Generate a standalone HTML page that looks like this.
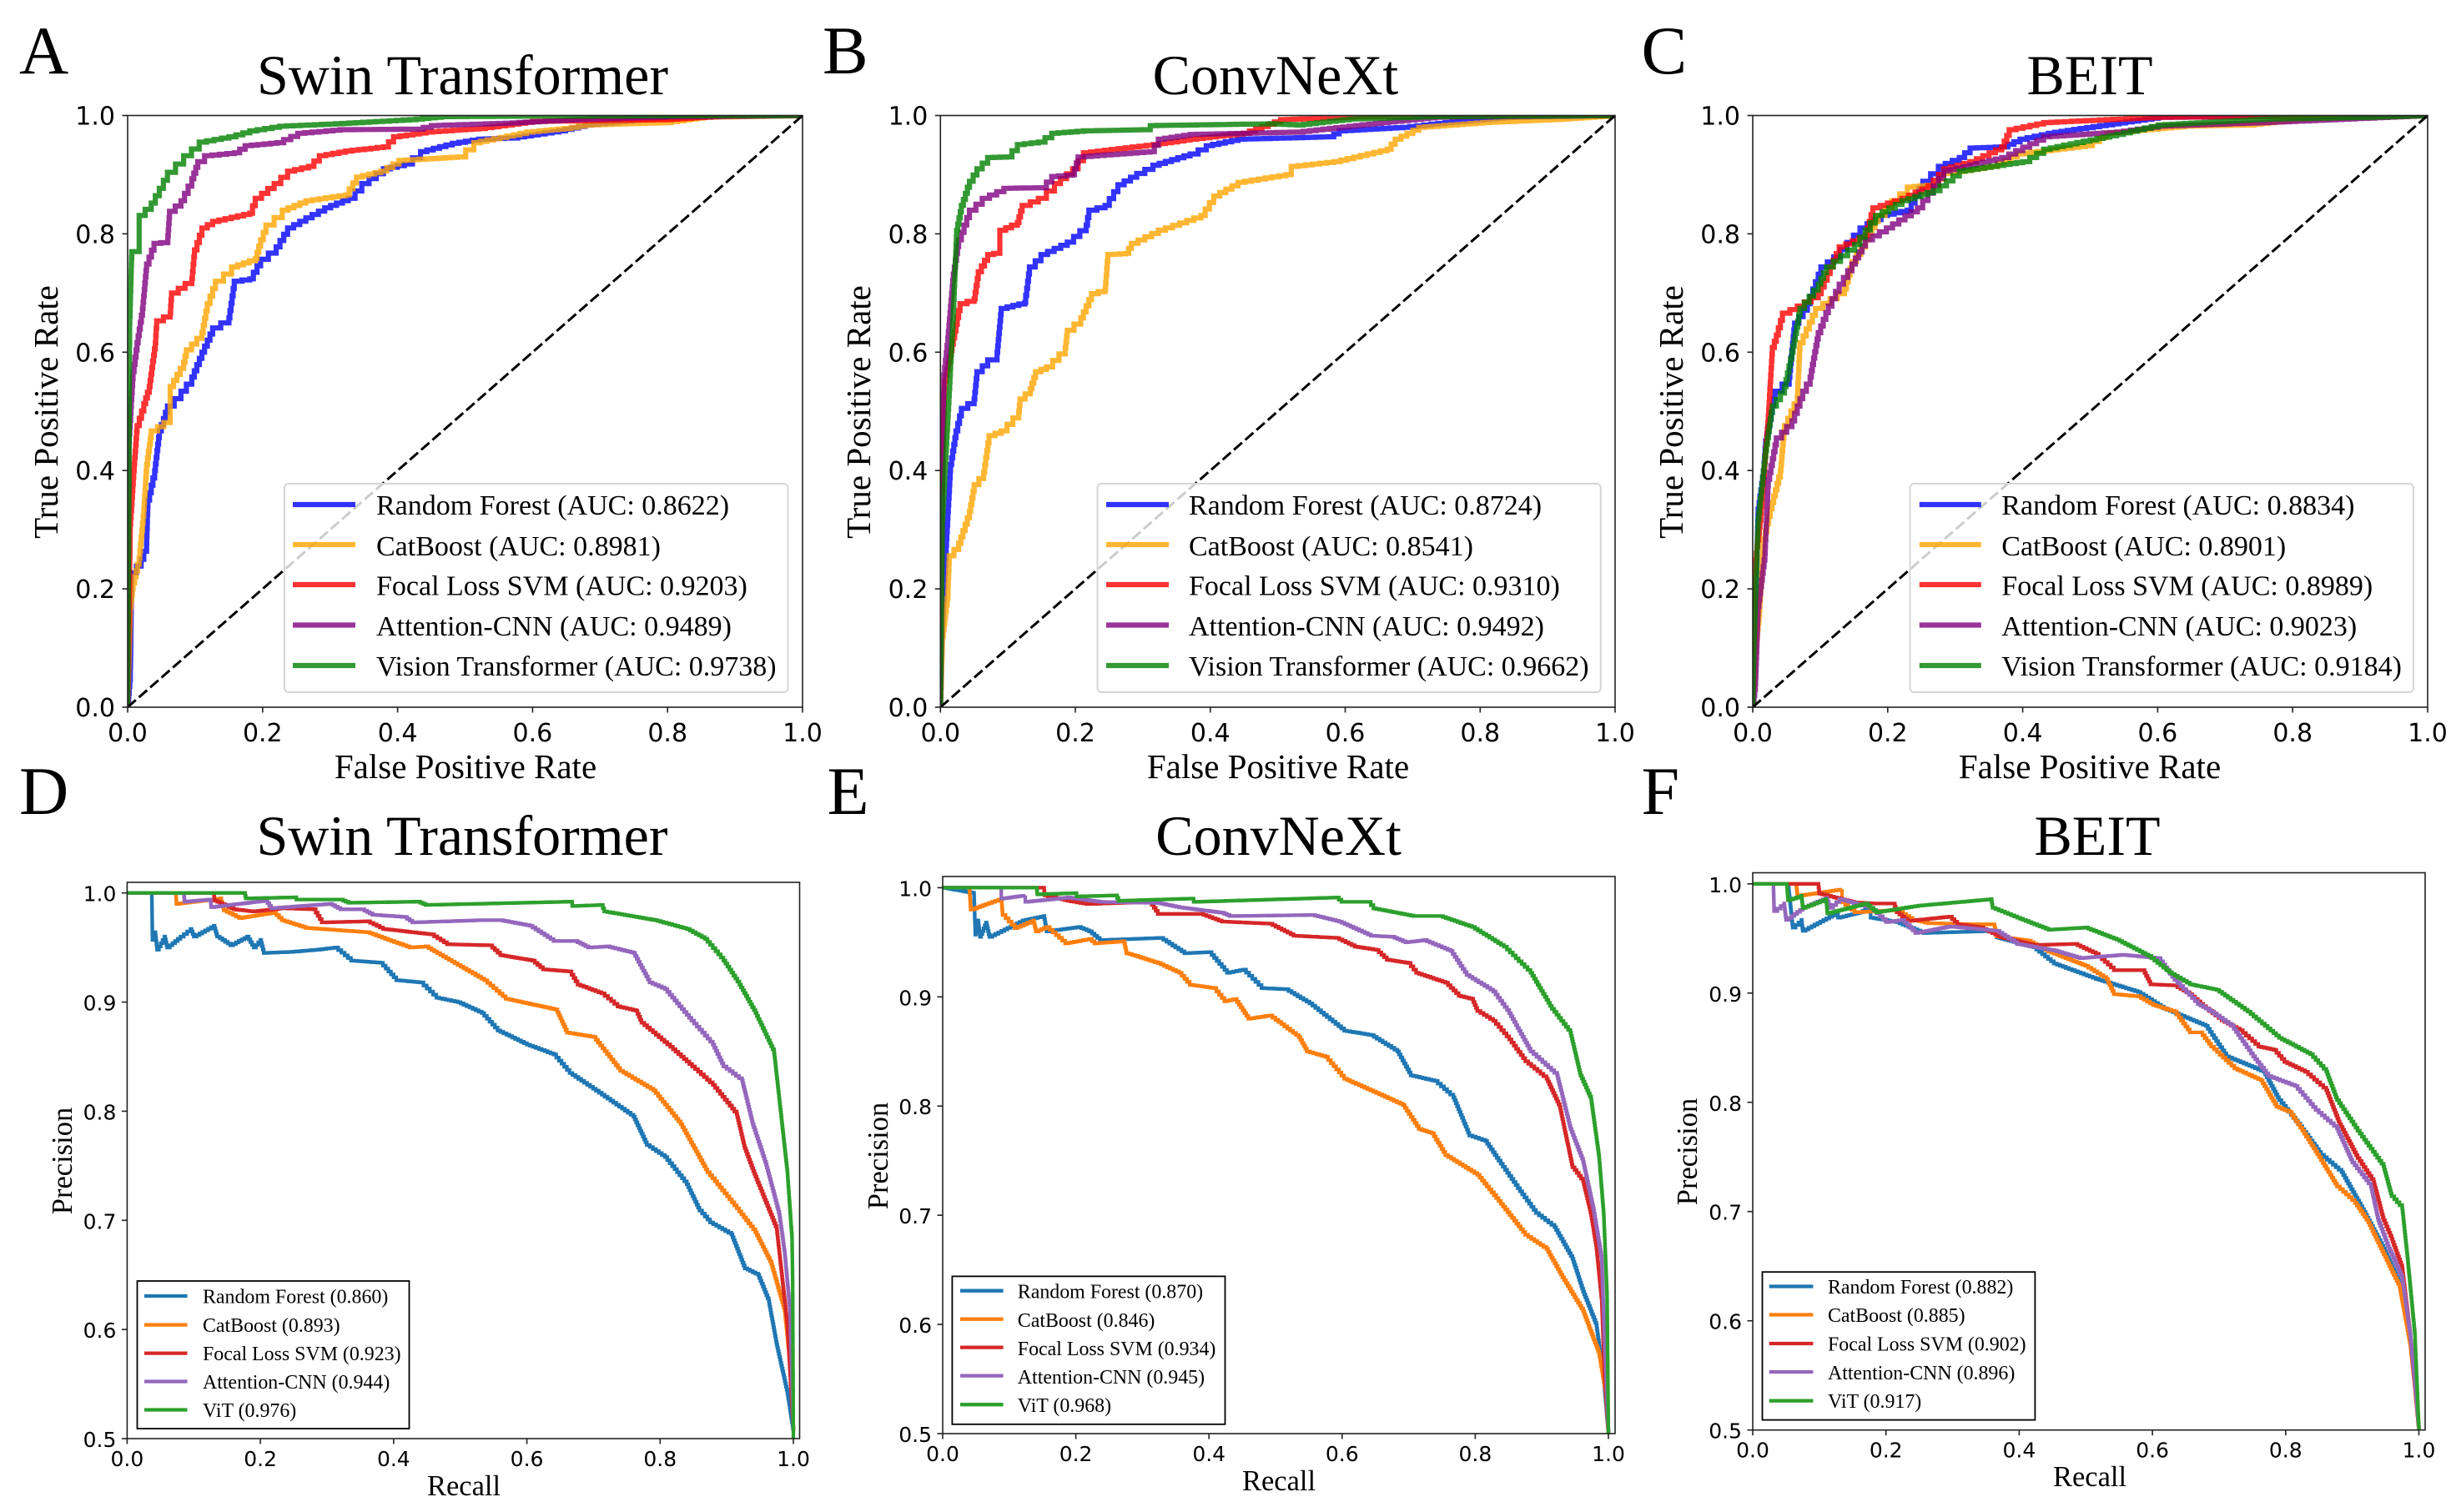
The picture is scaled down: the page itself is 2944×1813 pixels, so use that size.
<!DOCTYPE html>
<html lang="en">
<head>
<meta charset="utf-8">
<title>ROC and precision-recall curves</title>
<style>
html,body{margin:0;padding:0;background:#fff;}
svg{display:block;}
text{fill:#000;}
.serif{font-family:"Liberation Serif",serif;}
.sans{font-family:"DejaVu Sans",sans-serif;}
</style>
</head>
<body>
<svg id="chart" xmlns="http://www.w3.org/2000/svg" width="2944" height="1813" viewBox="0 0 2944 1813"></svg>
<script>
// ---------- shared categories and ticks ----------
const rocModels = ['Random Forest','CatBoost','Focal Loss SVM','Attention-CNN','Vision Transformer'];
const prModels = ['Random Forest','CatBoost','Focal Loss SVM','Attention-CNN','ViT'];
const unitTicks = [0,0.2,0.4,0.6,0.8,1];
const unitTickLabels = ['0.0','0.2','0.4','0.6','0.8','1.0'];
const prTicks = [0.5,0.6,0.7,0.8,0.9,1];
const prTickLabels = ['0.5','0.6','0.7','0.8','0.9','1.0'];

// ---------- printed legend scores ----------
const aucA = ['0.8622','0.8981','0.9203','0.9489','0.9738'];
const aucB = ['0.8724','0.8541','0.9310','0.9492','0.9662'];
const aucC = ['0.8834','0.8901','0.8989','0.9023','0.9184'];
const apD = ['0.860','0.893','0.923','0.944','0.976'];
const apE = ['0.870','0.846','0.934','0.945','0.968'];
const apF = ['0.882','0.885','0.902','0.896','0.917'];

// ---------- panel A: ROC Swin Transformer ----------
const rocA_rf = [[0,0],[.004,.058],[.006,.227],[.02,.25],[.028,.277],[.03,.35],[.04,.40],[.047,.467],[.059,.509],[.079,.534],[.095,.558],[.11,.60],[.126,.641],[.15,.658],[.158,.72],[.181,.724],[.197,.757],[.22,.778],[.237,.81],[.264,.827],[.292,.844],[.327,.86],[.347,.885],[.379,.91],[.41,.918],[.434,.939],[.481,.953],[.52,.96],[.568,.962],[.639,.974],[.678,.984],[.757,.993],[.875,.998],[1,1]];
const rocA_cat = [[0,0],[.004,.17],[.008,.21],[.017,.252],[.024,.335],[.028,.41],[.035,.467],[.063,.488],[.063,.542],[.083,.583],[.087,.604],[.11,.633],[.118,.682],[.13,.72],[.154,.744],[.189,.758],[.197,.79],[.205,.815],[.229,.84],[.264,.856],[.323,.866],[.339,.896],[.375,.906],[.402,.924],[.489,.93],[.513,.954],[.591,.972],[.647,.978],[.678,.984],[.796,.988],[.852,.997],[1,1]];
const rocA_svm = [[0,0],[.004,.31],[.009,.40],[.014,.476],[.024,.513],[.032,.542],[.041,.616],[.043,.653],[.063,.666],[.065,.70],[.095,.724],[.099,.773],[.11,.81],[.126,.821],[.181,.835],[.189,.86],[.217,.885],[.237,.906],[.268,.914],[.284,.932],[.323,.94],[.379,.947],[.394,.964],[.442,.972],[.52,.978],[.6,.99],[.796,.993],[.875,.999],[1,1]];
const rocA_cnn = [[0,0],[.002,.45],[.008,.567],[.014,.616],[.022,.674],[.028,.749],[.039,.784],[.059,.786],[.062,.838],[.079,.856],[.095,.893],[.104,.922],[.114,.932],[.158,.937],[.174,.949],[.221,.954],[.252,.97],[.315,.976],[.426,.977],[.45,.983],[.56,.987],[.678,.994],[.757,.997],[1,1]];
const rocA_vit = [[0,0],[.002,.37],[.003,.65],[.006,.77],[.017,.77],[.017,.831],[.035,.852],[.047,.877],[.059,.904],[.083,.932],[.106,.955],[.15,.964],[.181,.974],[.225,.982],[.308,.986],[.418,.993],[.465,.998],[.6,.999],[1,1]];

// ---------- panel B: ROC ConvNeXt ----------
const rocB_rf = [[0,0],[.003,.136],[.009,.285],[.015,.41],[.023,.467],[.031,.505],[.05,.521],[.054,.567],[.07,.587],[.084,.60],[.09,.674],[.125,.684],[.132,.744],[.149,.765],[.188,.786],[.216,.815],[.22,.84],[.244,.848],[.263,.883],[.291,.902],[.315,.916],[.37,.935],[.394,.949],[.441,.96],[.575,.964],[.591,.974],[.685,.98],[.748,.988],[.843,.997],[1,1]];
const rocB_cat = [[0,0],[.003,.12],[.011,.194],[.013,.256],[.027,.277],[.043,.331],[.05,.376],[.064,.397],[.072,.459],[.09,.467],[.116,.50],[.118,.521],[.133,.538],[.141,.567],[.157,.575],[.185,.608],[.188,.637],[.208,.658],[.224,.699],[.244,.706],[.248,.765],[.275,.767],[.283,.784],[.323,.806],[.386,.831],[.405,.864],[.441,.887],[.512,.90],[.52,.914],[.583,.922],[.662,.943],[.674,.96],[.709,.98],[.804,.988],[.922,.994],[1,1]];
const rocB_svm = [[0,0],[.003,.368],[.006,.55],[.019,.624],[.029,.682],[.05,.69],[.056,.736],[.07,.765],[.088,.769],[.088,.806],[.114,.819],[.121,.848],[.145,.86],[.169,.885],[.196,.91],[.212,.937],[.315,.951],[.37,.96],[.449,.97],[.504,.993],[.622,.998],[1,1]];
const rocB_cnn = [[0,0],[.003,.343],[.005,.562],[.011,.624],[.019,.732],[.027,.79],[.043,.84],[.062,.86],[.094,.877],[.149,.878],[.165,.897],[.196,.90],[.204,.93],[.311,.939],[.323,.96],[.37,.968],[.528,.972],[.654,.988],[.733,.997],[1,1]];
const rocB_vit = [[0,0],[.003,.318],[.011,.492],[.019,.666],[.024,.806],[.031,.848],[.043,.889],[.054,.91],[.07,.929],[.098,.93],[.114,.951],[.145,.955],[.165,.97],[.212,.974],[.299,.976],[.311,.983],[.488,.986],[.528,.984],[.606,.994],[.725,.998],[1,1]];

// ---------- panel C: ROC BEIT ----------
const rocC_rf = [[0,0],[.002,.08],[.008,.335],[.016,.40],[.019,.45],[.033,.534],[.054,.558],[.062,.649],[.081,.682],[.101,.744],[.12,.761],[.159,.81],[.19,.831],[.229,.84],[.252,.889],[.275,.914],[.306,.929],[.322,.945],[.369,.947],[.396,.96],[.438,.97],[.485,.978],[.601,.997],[1,1]];
const rocC_cat = [[0,0],[.005,.11],[.01,.165],[.016,.285],[.026,.335],[.041,.40],[.047,.476],[.066,.525],[.07,.616],[.093,.674],[.136,.707],[.147,.753],[.167,.79],[.186,.831],[.206,.856],[.229,.879],[.268,.883],[.283,.902],[.353,.914],[.392,.935],[.493,.949],[.524,.97],[.64,.982],[.733,.984],[.811,.994],[1,1]];
const rocC_svm = [[0,0],[.002,.227],[.012,.327],[.023,.492],[.029,.608],[.035,.629],[.044,.666],[.066,.678],[.097,.699],[.128,.778],[.167,.798],[.178,.844],[.221,.86],[.26,.881],[.283,.91],[.322,.922],[.369,.947],[.38,.976],[.431,.988],[.524,.993],[.601,.997],[1,1]];
const rocC_cnn = [[0,0],[.004,.04],[.008,.17],[.018,.26],[.023,.385],[.035,.455],[.058,.484],[.074,.534],[.085,.558],[.097,.633],[.112,.678],[.128,.715],[.147,.749],[.167,.79],[.198,.81],[.244,.844],[.283,.906],[.369,.929],[.431,.964],[.539,.972],[.601,.982],[.756,.988],[1,1]];
const rocC_vit = [[0,0],[.002,.12],[.008,.318],[.019,.434],[.029,.509],[.047,.542],[.058,.60],[.07,.674],[.097,.715],[.109,.744],[.151,.782],[.182,.831],[.221,.856],[.268,.873],[.306,.906],[.4,.922],[.431,.943],[.539,.968],[.601,.984],[.756,.994],[.911,.997],[1,1]];

// ---------- panel D: PR Swin Transformer ----------
const prD_rf = [[0,1],[.037,1],[.038,.957],[.042,.964],[.045,.948],[.056,.96],[.06,.95],[.08,.96],[.095,.967],[.1,.96],[.13,.97],[.135,.96],[.155,.952],[.18,.96],[.19,.95],[.2,.957],[.205,.945],[.245,.946],[.285,.948],[.312,.95],[.336,.938],[.38,.936],[.404,.92],[.44,.918],[.464,.904],[.496,.90],[.532,.89],[.556,.874],[.6,.861],[.64,.852],[.664,.835],[.708,.817],[.76,.795],[.78,.769],[.807,.758],[.84,.733],[.859,.709],[.875,.698],[.907,.687],[.927,.656],[.947,.65],[.963,.626],[.975,.586],[.991,.542],[1,.507]];
const prD_cat = [[0,1],[.073,1],[.074,.99],[.14,.995],[.145,.984],[.168,.977],[.22,.982],[.232,.975],[.268,.968],[.36,.964],[.396,.956],[.424,.95],[.448,.951],[.496,.934],[.536,.92],[.568,.903],[.644,.893],[.66,.872],[.70,.868],[.74,.837],[.79,.819],[.831,.788],[.871,.744],[.915,.711],[.943,.689],[.967,.66],[.987,.617],[.998,.551],[1,.507]];
const prD_svm = [[0,1],[.13,1],[.131,.993],[.16,.985],[.188,.983],[.232,.986],[.28,.985],[.292,.973],[.36,.974],[.384,.967],[.456,.962],[.48,.953],[.544,.952],[.56,.943],[.608,.938],[.624,.93],[.664,.928],[.676,.916],[.712,.908],[.736,.896],[.764,.892],[.772,.881],[.815,.859],[.848,.841],[.879,.824],[.915,.797],[.927,.766],[.943,.74],[.959,.716],[.975,.692],[.983,.648],[.991,.604],[1,.507]];
const prD_cnn = [[0,1],[.085,1],[.086,.992],[.125,.994],[.126,.987],[.208,.993],[.216,.986],[.304,.99],[.32,.985],[.352,.985],[.368,.98],[.416,.978],[.428,.973],[.528,.975],[.56,.975],[.604,.97],[.64,.956],[.672,.956],[.692,.95],[.72,.951],[.76,.945],[.784,.918],[.807,.912],[.847,.883],[.879,.861],[.895,.841],[.923,.828],[.939,.788],[.959,.751],[.979,.705],[.987,.67],[.995,.617],[1,.507]];
const prD_vit = [[0,1],[.176,1],[.178,.995],[.252,.996],[.254,.994],[.32,.994],[.332,.991],[.436,.992],[.448,.989],[.664,.992],[.668,.988],[.712,.989],[.716,.983],[.792,.975],[.84,.967],[.867,.958],[.895,.938],[.919,.916],[.943,.89],[.971,.854],[.983,.788],[.991,.744],[.998,.683],[.999,.639],[1,.5]];

// ---------- panel E: PR ConvNeXt ----------
const prE_rf = [[0,1],[.047,.995],[.049,.957],[.053,.97],[.056,.955],[.065,.968],[.07,.955],[.12,.97],[.152,.974],[.156,.96],[.204,.964],[.22,.96],[.236,.952],[.327,.954],[.363,.94],[.4,.941],[.427,.922],[.451,.925],[.479,.908],[.515,.907],[.551,.894],[.603,.869],[.643,.865],[.683,.85],[.703,.828],[.739,.823],[.767,.808],[.791,.773],[.815,.768],[.835,.75],[.867,.722],[.891,.702],[.919,.689],[.946,.66],[.962,.63],[.982,.599],[.993,.55],[1,.5]];
const prE_cat = [[0,1],[.04,1],[.042,.98],[.088,.99],[.09,.975],[.108,.963],[.136,.97],[.14,.96],[.156,.964],[.184,.949],[.22,.953],[.228,.949],[.272,.951],[.276,.94],[.323,.931],[.355,.922],[.371,.911],[.407,.908],[.423,.896],[.439,.898],[.459,.88],[.491,.883],[.535,.863],[.547,.85],[.575,.845],[.603,.825],[.651,.812],[.691,.801],[.715,.779],[.735,.775],[.755,.755],[.803,.737],[.835,.713],[.875,.682],[.907,.669],[.931,.643],[.962,.612],[.986,.573],[.996,.537],[1,.5]];
const prE_svm = [[0,1],[.152,1],[.153,.993],[.188,.988],[.216,.985],[.311,.987],[.323,.976],[.387,.976],[.419,.969],[.491,.967],[.527,.956],[.591,.954],[.619,.946],[.651,.943],[.667,.934],[.699,.931],[.711,.922],[.755,.913],[.775,.901],[.795,.898],[.803,.887],[.827,.878],[.851,.861],[.875,.841],[.907,.825],[.927,.799],[.946,.744],[.962,.731],[.974,.70],[.982,.67],[.99,.621],[.994,.555],[1,.5]];
const prE_cnn = [[0,1],[.088,1],[.088,.99],[.124,.993],[.124,.987],[.188,.991],[.236,.987],[.323,.986],[.355,.982],[.419,.977],[.431,.974],[.555,.975],[.595,.969],[.643,.956],[.675,.955],[.695,.95],[.723,.952],[.763,.942],[.787,.92],[.827,.905],[.851,.885],[.883,.85],[.923,.828],[.943,.779],[.962,.749],[.978,.704],[.99,.66],[.994,.59],[1,.5]];
const prE_vit = [[0,1],[.141,1],[.142,.994],[.2,.995],[.201,.992],[.26,.993],[.264,.988],[.371,.99],[.377,.987],[.591,.991],[.599,.987],[.639,.987],[.647,.981],[.707,.974],[.747,.974],[.795,.964],[.843,.946],[.883,.922],[.915,.889],[.943,.867],[.958,.828],[.974,.806],[.986,.753],[.993,.70],[.998,.625],[1,.5]];

// ---------- panel F: PR BEIT ----------
const prF_rf = [[0,1],[.053,1],[.06,.96],[.073,.967],[.075,.957],[.128,.974],[.128,.969],[.161,.974],[.177,.98],[.177,.969],[.216,.965],[.256,.955],[.366,.957],[.366,.951],[.421,.942],[.452,.927],[.515,.913],[.578,.901],[.617,.886],[.68,.87],[.711,.842],[.767,.828],[.79,.802],[.822,.778],[.853,.752],[.884,.736],[.92,.697],[.947,.666],[.971,.635],[.987,.587],[.994,.543],[1,.5]];
const prF_cat = [[0,1],[.065,1],[.067,.989],[.134,.995],[.134,.983],[.153,.974],[.216,.976],[.24,.967],[.263,.964],[.326,.963],[.362,.963],[.366,.952],[.413,.948],[.444,.938],[.499,.925],[.531,.913],[.542,.899],[.578,.897],[.601,.889],[.633,.883],[.656,.864],[.672,.864],[.688,.851],[.723,.831],[.763,.82],[.786,.796],[.806,.791],[.825,.774],[.853,.747],[.877,.723],[.904,.708],[.924,.69],[.947,.661],[.971,.631],[.987,.578],[.994,.538],[1,.5]];
const prF_svm = [[0,1],[.098,1],[.1,.991],[.152,.983],[.181,.982],[.212,.982],[.216,.974],[.232,.966],[.295,.97],[.307,.963],[.342,.96],[.373,.951],[.421,.944],[.483,.945],[.515,.936],[.542,.921],[.586,.921],[.597,.908],[.633,.907],[.656,.899],[.676,.888],[.704,.875],[.731,.866],[.759,.851],[.782,.848],[.798,.837],[.829,.828],[.861,.811],[.881,.78],[.908,.749],[.932,.727],[.947,.692],[.959,.675],[.975,.648],[.987,.587],[1,.5]];
const prF_cnn = [[0,1],[.031,1],[.032,.975],[.047,.982],[.05,.967],[.075,.978],[.11,.987],[.116,.978],[.13,.986],[.177,.978],[.2,.965],[.224,.967],[.244,.955],[.295,.961],[.366,.957],[.397,.945],[.452,.939],[.491,.932],[.554,.935],[.609,.932],[.633,.912],[.668,.89],[.688,.883],[.719,.87],[.751,.842],[.774,.824],[.814,.815],[.845,.793],[.877,.776],[.9,.745],[.928,.723],[.939,.692],[.955,.666],[.975,.639],[.987,.587],[.994,.543],[1,.5]];
const prF_vit = [[0,1],[.051,1],[.053,.985],[.073,.989],[.075,.978],[.11,.986],[.112,.973],[.169,.982],[.185,.974],[.248,.98],[.358,.986],[.36,.978],[.397,.969],[.444,.958],[.499,.96],[.546,.949],[.594,.934],[.625,.919],[.656,.908],[.696,.903],[.743,.883],[.79,.859],[.837,.844],[.861,.828],[.877,.802],[.908,.774],[.947,.741],[.959,.714],[.975,.703],[.983,.657],[.994,.587],[1,.5]];

// ---------- styling and layout ----------
const rocColors = ['#0000ff','#ffa500','#ff0000','#800080','#008000'];
const prColors = ['#1f77b4','#ff7f0e','#d62728','#9467bd','#2ca02c'];

const panels = [
  {id:'a',kind:'roc',letter:'A',lx:23,ly:88,title:'Swin Transformer',tx:554.5,ty:113,box:[153,138.5,962,848],xp:[153,962],yp:[848,138.5],
   series:[rocA_rf,rocA_cat,rocA_svm,rocA_cnn,rocA_vit],scores:aucA,xLabelX:558,xLabelY:933,yLabelX:69,yLabelY:494,
   leg:{x0:341,x1:944.5,y0:580,y1:830,lx0:351,lx1:426,tx:451}},
  {id:'b',kind:'roc',letter:'B',lx:986,ly:88,title:'ConvNeXt',tx:1529,ty:113,box:[1127.3,138.5,1936,848],xp:[1127.3,1936],yp:[848,138.5],
   series:[rocB_rf,rocB_cat,rocB_svm,rocB_cnn,rocB_vit],scores:aucB,xLabelX:1532,xLabelY:933,yLabelX:1043,yLabelY:494,
   leg:{x0:1315.5,x1:1918.8,y0:580,y1:830,lx0:1326,lx1:1401,tx:1425}},
  {id:'c',kind:'roc',letter:'C',lx:1967.5,ly:88,title:'BEIT',tx:2505,ty:113,box:[2101,138.5,2910,848],xp:[2101,2910],yp:[848,138.5],
   series:[rocC_rf,rocC_cat,rocC_svm,rocC_cnn,rocC_vit],scores:aucC,xLabelX:2505,xLabelY:933,yLabelX:2017,yLabelY:494,
   leg:{x0:2289.5,x1:2893,y0:580,y1:830,lx0:2300.8,lx1:2374.8,tx:2399.3}},
  {id:'d',kind:'pr',letter:'D',lx:23,ly:976,title:'Swin Transformer',tx:554,ty:1025,box:[152.4,1058,958.5,1725],xp:[152.4,951],yp:[1725,1070.7],
   series:[prD_rf,prD_cat,prD_svm,prD_cnn,prD_vit],scores:apD,xLabelX:556,xLabelY:1793,yLabelX:86,yLabelY:1392,
   leg:{x0:164.5,x1:490.5,y0:1536,y1:1713,lx0:173,lx1:224.5,tx:243,ly:[1554,1588.6,1622.6,1656.5,1690.5],by:[1562.6,1597,1631,1665,1699]}},
  {id:'e',kind:'pr',letter:'E',lx:991.5,ly:976,title:'ConvNeXt',tx:1532.6,ty:1025,box:[1130,1051,1936,1719],xp:[1130,1928],yp:[1719,1064.4],
   series:[prE_rf,prE_cat,prE_svm,prE_cnn,prE_vit],scores:apE,xLabelX:1533,xLabelY:1787,yLabelX:1064,yLabelY:1386,
   leg:{x0:1141.4,x1:1468.5,y0:1530.4,y1:1707.8,lx0:1151,lx1:1202.6,tx:1219.8,ly:[1547.7,1581.7,1615.6,1649.6,1684.2],by:[1556.3,1590.9,1624.9,1658.9,1692.8]}},
  {id:'f',kind:'pr',letter:'F',lx:1967.5,ly:976,title:'BEIT',tx:2514,ty:1025,box:[2101,1046.5,2907,1714.7],xp:[2101,2899.5],yp:[1714.7,1059.8],
   series:[prF_rf,prF_cat,prF_svm,prF_cnn,prF_vit],scores:apF,xLabelX:2505,xLabelY:1782,yLabelX:2034,yLabelY:1381,
   leg:{x0:2112.5,x1:2439.4,y0:1525.2,y1:1702.6,lx0:2120.7,lx1:2173.4,tx:2191,ly:[1542.5,1576.5,1611,1645,1679.6],by:[1551,1585,1619.7,1654,1688]}}
];

const NS = 'http://www.w3.org/2000/svg';
const root = document.getElementById('chart');

function make(tag, parent, attrs, name, interactable) {
  const el = document.createElementNS(NS, tag);
  for (const k in attrs) el.setAttribute(k, attrs[k]);
  
  
  parent.appendChild(el);
  return el;
}
function label(parent, str, attrs, name) {
  const el = make('text', parent, attrs, name, false);
  el.textContent = str;
  return el;
}
function slug(s) { return s.toLowerCase().replace(/[^a-z0-9]+/g, '-'); }

function linear(d0, d1, r0, r1) {
  return function (v) { return r0 + (v - d0) / (d1 - d0) * (r1 - r0); };
}
function stairPath(points, sx, sy, stepPx) {
  let d = 'M' + sx(points[0][0]).toFixed(1) + ' ' + sy(points[0][1]).toFixed(1);
  for (let i = 1; i < points.length; i++) {
    const x0 = sx(points[i - 1][0]), y0 = sy(points[i - 1][1]);
    const x1 = sx(points[i][0]), y1 = sy(points[i][1]);
    const n = Math.max(1, Math.round(Math.max(Math.abs(x1 - x0), Math.abs(y1 - y0)) / stepPx));
    for (let k = 1; k <= n; k++) {
      d += 'H' + (x0 + (x1 - x0) * k / n).toFixed(1) + 'V' + (y0 + (y1 - y0) * k / n).toFixed(1);
    }
  }
  return d;
}

const defs = make('defs', root, {}, 'clip-definitions', false);

panels.forEach(function (p) {
  const isRoc = p.kind === 'roc';
  const g = make('g', root, {}, 'panel-' + p.id, false);
  const sx = linear(0, 1, p.xp[0], p.xp[1]);
  const sy = isRoc ? linear(0, 1, p.yp[0], p.yp[1]) : linear(0.5, 1, p.yp[0], p.yp[1]);
  const yTicks = isRoc ? unitTicks : prTicks;
  const yTickLabels = isRoc ? unitTickLabels : prTickLabels;
  const tickFont = isRoc ? 30 : 25;
  const b = p.box;

  label(g, p.letter, {x: p.lx, y: p.ly, 'font-size': 82, 'class': 'serif'}, 'panel-letter-' + p.id);
  label(g, p.title, {x: p.tx, y: p.ty, 'font-size': 68, 'text-anchor': 'middle', 'class': 'serif'}, 'panel-title-' + p.id);

  const clip = make('clipPath', defs, {id: 'clip-' + p.id}, 'plot-clip-' + p.id, false);
  make('rect', clip, {x: b[0], y: b[1], width: b[2] - b[0], height: b[3] - b[1]}, 'plot-clip-rect-' + p.id, false);

  const plot = make('g', g, {'clip-path': 'url(#clip-' + p.id + ')'}, 'plot-area-' + p.id, false);
  p.series.forEach(function (pts, i) {
    const model = isRoc ? rocModels[i] : prModels[i];
    const colors = isRoc ? rocColors : prColors;
    make('path', plot, {
      d: stairPath(pts, sx, sy, isRoc ? 8 : 3.5),
      fill: 'none',
      stroke: colors[i],
      'stroke-width': isRoc ? 6.2 : 4.3,
      'stroke-opacity': isRoc ? 0.8 : 1,
      'stroke-linejoin': 'miter'
    }, 'curve-' + slug(model) + '-' + p.id, false);
  });
  if (isRoc) {
    make('line', plot, {
      x1: sx(0), y1: sy(0), x2: sx(1), y2: sy(1),
      stroke: '#000', 'stroke-width': 3, 'stroke-dasharray': '13 5'
    }, 'chance-diagonal-' + p.id, false);
  }

  make('rect', g, {x: b[0], y: b[1], width: b[2] - b[0], height: b[3] - b[1], fill: 'none', stroke: '#222', 'stroke-width': 1.6}, 'axes-frame-' + p.id, false);

  unitTicks.forEach(function (v, i) {
    const x = sx(v);
    make('line', g, {x1: x, x2: x, y1: b[3], y2: b[3] + 6.5, stroke: '#222', 'stroke-width': 1.6}, 'x-tick-' + p.id + '-' + i, false);
    label(g, unitTickLabels[i], {x: x, y: isRoc ? b[3] + 41 : b[3] + 33, 'font-size': tickFont, 'text-anchor': 'middle', 'class': 'sans'}, 'x-tick-label-' + p.id + '-' + i);
  });
  yTicks.forEach(function (v, i) {
    const y = sy(v);
    make('line', g, {x1: b[0] - 6.5, x2: b[0], y1: y, y2: y, stroke: '#222', 'stroke-width': 1.6}, 'y-tick-' + p.id + '-' + i, false);
    label(g, yTickLabels[i], {x: b[0] - (isRoc ? 15 : 13), y: y + (isRoc ? 11 : 10), 'font-size': tickFont, 'text-anchor': 'end', 'class': 'sans'}, 'y-tick-label-' + p.id + '-' + i);
  });

  const axisFont = isRoc ? 41 : 34.5;
  label(g, isRoc ? 'False Positive Rate' : 'Recall', {x: p.xLabelX, y: p.xLabelY, 'font-size': axisFont, 'text-anchor': 'middle', 'class': 'serif'}, 'x-axis-title-' + p.id);
  label(g, isRoc ? 'True Positive Rate' : 'Precision', {
    x: 0, y: 0, 'font-size': axisFont, 'text-anchor': 'middle', 'class': 'serif',
    transform: 'translate(' + p.yLabelX + ' ' + p.yLabelY + ') rotate(-90)'
  }, 'y-axis-title-' + p.id);

  const L = p.leg;
  const lg = make('g', g, {}, 'legend-' + p.id, false);
  make('rect', lg, {
    x: L.x0, y: L.y0, width: L.x1 - L.x0, height: L.y1 - L.y0,
    rx: isRoc ? 5 : 0,
    fill: isRoc ? 'rgba(255,255,255,0.8)' : '#fff',
    stroke: isRoc ? '#d6d6d6' : '#000',
    'stroke-width': isRoc ? 2 : 1.8
  }, 'legend-frame-' + p.id, false);
  const rocLineY = [605, 653, 701, 749.5, 798];
  const rocBase = [617, 666, 713.6, 762, 810];
  (isRoc ? rocModels : prModels).forEach(function (model, i) {
    const ly = isRoc ? rocLineY[i] : L.ly[i];
    const by = isRoc ? rocBase[i] : L.by[i];
    make('line', lg, {
      x1: L.lx0, x2: L.lx1, y1: ly, y2: ly,
      stroke: (isRoc ? rocColors : prColors)[i],
      'stroke-width': isRoc ? 6.2 : 4.3,
      'stroke-opacity': isRoc ? 0.8 : 1
    }, 'legend-swatch-' + slug(model) + '-' + p.id, false);
    const txt = isRoc ? model + ' (AUC: ' + p.scores[i] + ')' : model + ' (' + p.scores[i] + ')';
    label(lg, txt, {x: L.tx, y: by, 'font-size': isRoc ? 34 : 23.9, 'class': 'serif'}, 'legend-entry-' + slug(model) + '-' + p.id);
  });
});
</script>
</body>
</html>
